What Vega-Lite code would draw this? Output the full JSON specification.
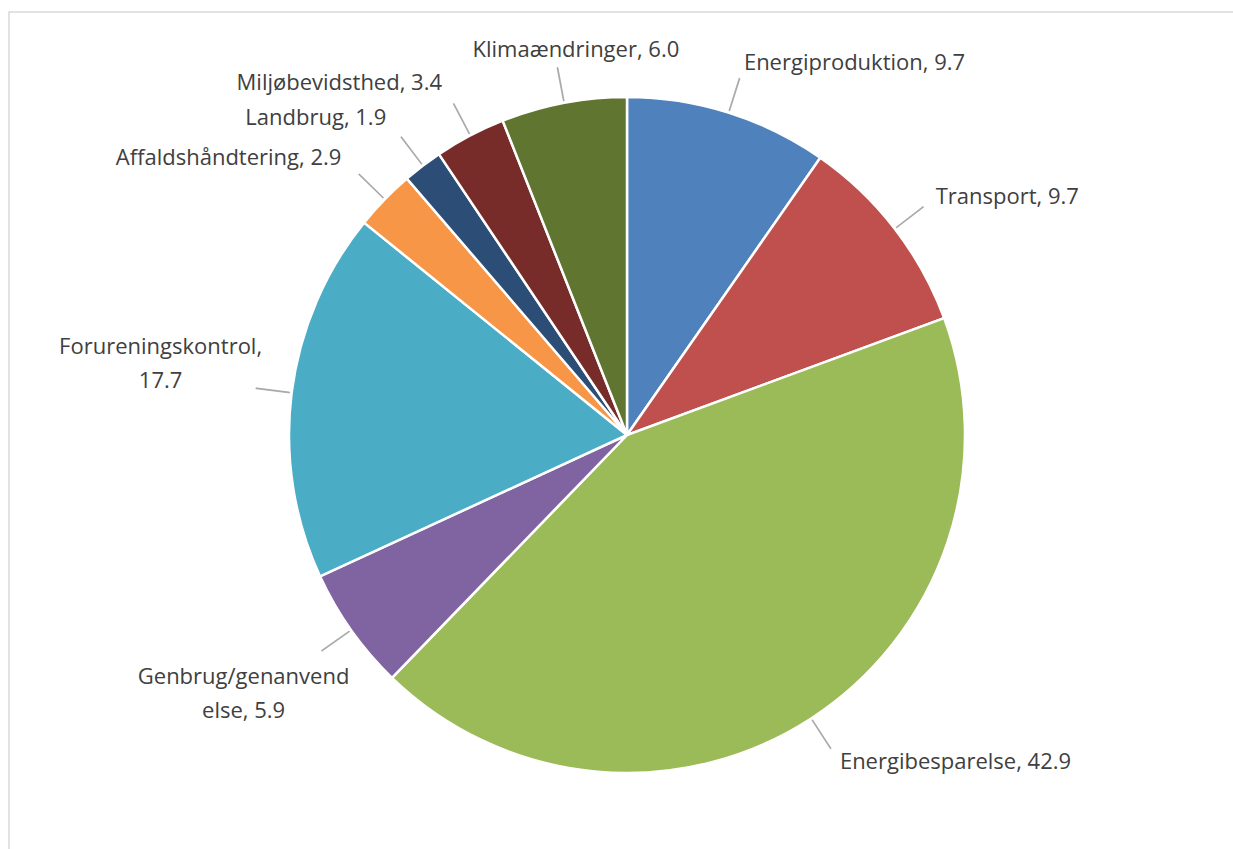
{
  "$schema": "https://vega.github.io/schema/vega-lite/v6.json",
  "width": 1236,
  "height": 846,
  "autosize": {"type": "none"},
  "padding": {"left": 9, "top": 12, "right": 0, "bottom": 0},
  "background": "white",
  "view": {"stroke": "#d9d9d9", "strokeWidth": 1.5},
  "config": {"text": {"font": "Open Sans", "fontSize": 22, "color": "#404040"}},
  "data": {
    "values": [
      {"order": 1, "name": "Energiproduktion", "value": 9.7, "label": "Energiproduktion, 9.7"},
      {"order": 2, "name": "Transport", "value": 9.7, "label": "Transport, 9.7"},
      {"order": 3, "name": "Energibesparelse", "value": 42.9, "label": "Energibesparelse, 42.9"},
      {"order": 4, "name": "Genbrug/genanvendelse", "value": 5.9, "label": "Genbrug/genanvend\nelse, 5.9"},
      {"order": 5, "name": "Forureningskontrol", "value": 17.7, "label": "Forureningskontrol,\n17.7"},
      {"order": 6, "name": "Affaldshåndtering", "value": 2.9, "label": "Affaldshåndtering, 2.9"},
      {"order": 7, "name": "Landbrug", "value": 1.9, "label": "Landbrug, 1.9"},
      {"order": 8, "name": "Miljøbevidsthed", "value": 3.4, "label": "Miljøbevidsthed, 3.4"},
      {"order": 9, "name": "Klimaændringer", "value": 6.0, "label": "Klimaændringer, 6.0"}
    ]
  },
  "transform": [
    {"stack": "value", "groupby": [], "sort": [{"field": "order", "order": "ascending"}], "as": ["v0", "v1"]},
    {"calculate": "(datum.v0 + datum.v1) / 2", "as": "mid"},
    {"calculate": "datum.mid + 0.04", "as": "mid2"}
  ],
  "layer": [
    {
      "mark": {"type": "arc", "radius": 338, "stroke": "white", "strokeWidth": 2.5},
      "encoding": {
        "theta": {"field": "v0", "type": "quantitative", "scale": {"domain": [0, 100.1]}},
        "theta2": {"field": "v1"},
        "color": {
          "field": "name",
          "type": "nominal",
          "scale": {
            "domain": ["Energiproduktion", "Transport", "Energibesparelse", "Genbrug/genanvendelse", "Forureningskontrol", "Affaldshåndtering", "Landbrug", "Miljøbevidsthed", "Klimaændringer"],
            "range": ["#4F81BD", "#C0504D", "#9BBB59", "#8064A2", "#4BACC6", "#F79646", "#2C4D75", "#772C2A", "#5F7530"]
          },
          "legend": null
        }
      }
    },
    {
      "mark": {"type": "arc", "radius": 374, "radius2": 340, "fill": "#a6a6a6", "stroke": "#a6a6a6", "strokeWidth": 0.8},
      "encoding": {
        "theta": {"field": "mid", "type": "quantitative"},
        "theta2": {"field": "mid2"}
      }
    },
    {
      "transform": [{"filter": "datum.mid < 50.05"}],
      "mark": {"type": "text", "radius": 390, "align": "left", "baseline": "middle", "lineBreak": "\n"},
      "encoding": {
        "theta": {"field": "mid", "type": "quantitative"},
        "text": {"field": "label"}
      }
    },
    {
      "transform": [{"filter": "datum.mid >= 60 && datum.mid < 86"}],
      "mark": {"type": "text", "radius": 470, "align": "center", "baseline": "middle", "lineBreak": "\n", "lineHeight": 34, "dy": -30},
      "encoding": {
        "theta": {"field": "mid", "type": "quantitative"},
        "text": {"field": "label"}
      }
    },
    {
      "transform": [{"filter": "datum.mid >= 86 && datum.mid < 95"}],
      "mark": {"type": "text", "radius": 398, "align": "right", "baseline": "middle"},
      "encoding": {
        "theta": {"field": "mid", "type": "quantitative"},
        "text": {"field": "label"}
      }
    },
    {
      "transform": [{"filter": "datum.mid >= 95"}],
      "mark": {"type": "text", "radius": 380, "align": "center", "baseline": "bottom", "dx": 20},
      "encoding": {
        "theta": {"field": "mid", "type": "quantitative"},
        "text": {"field": "label"}
      }
    }
  ]
}
